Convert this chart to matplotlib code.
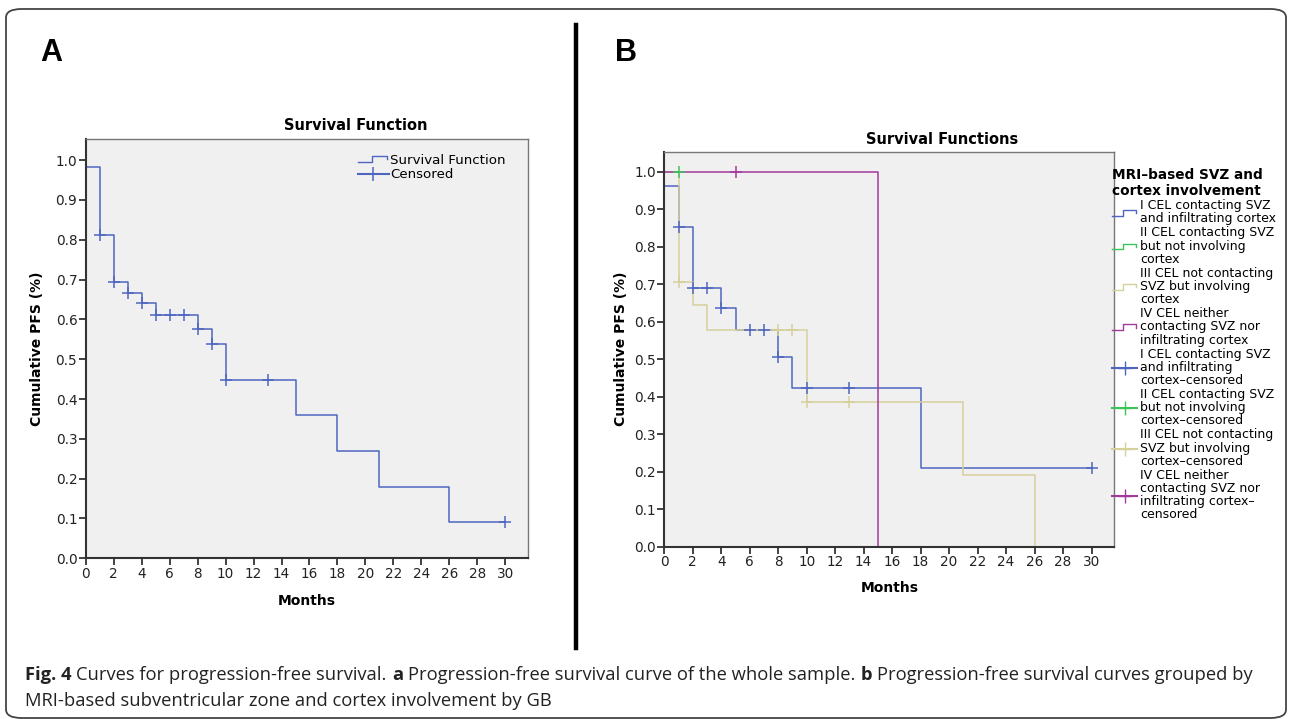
import matplotlib
matplotlib.use("Agg")
import matplotlib.pyplot as plt
from matplotlib.lines import Line2D
from matplotlib.legend_handler import HandlerBase
from matplotlib.patches import FancyBboxPatch


# panel A: whole sample
months_a = [0, 1, 2, 3, 4, 5, 8, 9, 10, 15, 18, 21, 26, 30]
pfs_a = [0.982, 0.813, 0.693, 0.666, 0.640, 0.611, 0.575, 0.538, 0.449,
         0.359, 0.269, 0.180, 0.090, 0.090]
cens_months_a = [1, 2, 3, 4, 5, 6, 7, 8, 9, 10, 13, 30]
cens_pfs_a = [0.813, 0.693, 0.666, 0.640, 0.611, 0.611, 0.611, 0.575,
              0.538, 0.449, 0.449, 0.090]

# panel B: groups I-IV
months_g1 = [0, 1, 2, 4, 5, 8, 9, 18, 30]
pfs_g1 = [0.962, 0.852, 0.689, 0.635, 0.577, 0.506, 0.422, 0.211, 0.211]
cens_months_g1 = [1, 2, 3, 4, 6, 7, 8, 10, 13, 30]
cens_pfs_g1 = [0.852, 0.689, 0.689, 0.635, 0.577, 0.577, 0.506, 0.422,
               0.422, 0.211]

months_g2 = [0, 1]
pfs_g2 = [1.0, 1.0]
cens_months_g2 = [1]
cens_pfs_g2 = [1.0]

months_g3 = [0, 1, 2, 3, 10, 21, 26]
pfs_g3 = [1.0, 0.705, 0.643, 0.577, 0.385, 0.192, 0.0]
cens_months_g3 = [1, 8, 9, 10, 13]
cens_pfs_g3 = [0.705, 0.577, 0.577, 0.385, 0.385]

months_g4 = [0, 15]
pfs_g4 = [1.0, 0.0]
cens_months_g4 = [5]
cens_pfs_g4 = [1.0]

group_labels = [
    "I CEL contacting SVZ\nand infiltrating cortex",
    "II CEL contacting SVZ\nbut not involving\ncortex",
    "III CEL not contacting\nSVZ but involving\ncortex",
    "IV CEL neither\ncontacting SVZ nor\ninfiltrating cortex",
]
cens_labels = [
    "I CEL contacting SVZ\nand infiltrating\ncortex\u2013censored",
    "II CEL contacting SVZ\nbut not involving\ncortex\u2013censored",
    "III CEL not contacting\nSVZ but involving\ncortex\u2013censored",
    "IV CEL neither\ncontacting SVZ nor\ninfiltrating cortex\u2013\ncensored",
]

x_ticks = list(range(0, 31, 2))
y_ticks = [0.0, 0.1, 0.2, 0.3, 0.4, 0.5, 0.6, 0.7, 0.8, 0.9, 1.0]

blue = "#4e66c0"
green = "#3cc45a"
khaki = "#d6d09a"
purple = "#a23a9c"


class StepHandler(HandlerBase):
    # little step symbol like SPSS uses for survival lines
    def create_artists(self, legend, orig_handle, xdescent, ydescent,
                       width, height, fontsize, trans):
        x0 = -xdescent
        y0 = -ydescent
        xs = [x0, x0 + 0.45 * width, x0 + 0.45 * width, x0 + 0.95 * width,
              x0 + 0.95 * width]
        ys = [y0 + 0.2 * height, y0 + 0.2 * height, y0 + 0.85 * height,
              y0 + 0.85 * height, y0 + 0.5 * height]
        ln = Line2D(xs, ys, color=orig_handle.get_color(), lw=1.0,
                    transform=trans)
        return [ln]


W, H = 1290, 719
fig = plt.figure(figsize=(W / 100, H / 100), dpi=100)


def fx(px):
    return px / W


def fy(py):
    return 1 - py / H


def style_axes(ax):
    ax.set_facecolor("#f0f0f0")
    ax.set_xlim(0, 31.6)
    ax.set_ylim(0, 1.053)
    ax.set_xticks(x_ticks)
    ax.set_yticks(y_ticks)
    ax.set_yticklabels(["%.1f" % v for v in y_ticks])
    ax.tick_params(direction="out", length=5, width=1.2, labelsize=9.8,
                   colors="#222222", pad=1)
    for side in ["left", "bottom"]:
        ax.spines[side].set_linewidth(1.5)
        ax.spines[side].set_color("#333333")
    for side in ["top", "right"]:
        ax.spines[side].set_linewidth(1.0)
        ax.spines[side].set_color("#777777")
    ax.set_xlabel("Months", fontsize=10, fontweight="bold")
    ax.set_ylabel("Cumulative PFS (%)", fontsize=10, fontweight="bold")


# ---- panel A ----
axA = fig.add_axes([fx(85.7), fy(558.3), fx(527.7 - 85.7), (558.3 - 139) / H])
style_axes(axA)
axA.step(months_a, pfs_a, where="post", color=blue, lw=1.1)
axA.plot(cens_months_a, cens_pfs_a, ls="none", marker="+", ms=8,
         mew=1.1, color=blue)
axA.xaxis.set_label_coords(0.5, -0.086)
axA.yaxis.set_label_coords(-0.095, 0.5)

hA1 = Line2D([], [], color=blue)
hA2 = Line2D([], [], color=blue, marker="+", ms=10, mew=1.1)
fig.legend([hA1, hA2], ["Survival Function", "Censored"],
           loc="upper left", bbox_to_anchor=(fx(358), fy(154)),
           frameon=False, fontsize=9.6, borderpad=0, borderaxespad=0,
           labelspacing=0.1, handlelength=2.3, handletextpad=0.1,
           numpoints=1, handler_map={hA1: StepHandler()})
fig.text(fx(356), fy(126), "Survival Function", ha="center", va="center",
         fontsize=10.5, fontweight="bold")

# ---- panel B ----
axB = fig.add_axes([fx(664.3), fy(546.7), fx(1114.3 - 664.3), (546.7 - 151.7) / H])
style_axes(axB)
groups = [
    (months_g1, pfs_g1, cens_months_g1, cens_pfs_g1, blue),
    (months_g2, pfs_g2, cens_months_g2, cens_pfs_g2, green),
    (months_g3, pfs_g3, cens_months_g3, cens_pfs_g3, khaki),
    (months_g4, pfs_g4, cens_months_g4, cens_pfs_g4, purple),
]
for m, s, cm, cs, c in groups:
    axB.step(m, s, where="post", color=c, lw=1.1)
for m, s, cm, cs, c in groups:
    axB.plot(cm, cs, ls="none", marker="+", ms=8, mew=1.1, color=c)
axB.xaxis.set_label_coords(0.5, -0.088)
axB.yaxis.set_label_coords(-0.08, 0.5)

colors_b = [blue, green, khaki, purple]
step_handles = [Line2D([], [], color=c) for c in colors_b]
cens_handles = [Line2D([], [], color=c, marker="+", ms=10, mew=1.0)
                for c in colors_b]
legB = fig.legend(step_handles + cens_handles, group_labels + cens_labels,
                  loc="upper left", bbox_to_anchor=(fx(1112), fy(168)),
                  frameon=False, fontsize=9.0, borderpad=0, borderaxespad=0,
                  labelspacing=0.08, handlelength=2.0, handletextpad=0.25,
                  numpoints=1, alignment="left",
                  title="MRI\u2013based SVZ and\ncortex involvement",
                  title_fontproperties={"weight": "bold", "size": 9.8},
                  handler_map={h: StepHandler() for h in step_handles})
for t in legB.get_texts():
    t.set_linespacing(1.02)
fig.text(fx(942), fy(140), "Survival Functions", ha="center", va="center",
         fontsize=10.5, fontweight="bold")

# ---- frame, panel letters, divider ----
fig.patches.append(FancyBboxPatch((fx(6), fy(718)), fx(1280), (718 - 9) / H,
                                  boxstyle="round,pad=0,rounding_size=0.012",
                                  transform=fig.transFigure, fill=False,
                                  edgecolor="#444444", lw=1.3))
fig.add_artist(Line2D([fx(576), fx(576)], [fy(25), fy(648)],
                      color="black", lw=3.2, transform=fig.transFigure))
fig.text(fx(40), fy(53), "A", fontsize=22, fontweight="bold",
         family="Liberation Sans", va="center")
fig.text(fx(615), fy(53), "B", fontsize=22, fontweight="bold",
         family="Liberation Sans", va="center")

# ---- caption with bold pieces ----
renderer = fig.canvas.get_renderer()
cap_line1 = [("Fig. 4", "bold"), ("Curves for progression-free survival.", "normal"),
             ("a", "bold"), ("Progression-free survival curve of the whole sample.", "normal"),
             ("b", "bold"), ("Progression-free survival curves grouped by", "normal")]
cap_line2 = [("MRI-based subventricular zone and cortex involvement by GB", "normal")]
cap_size = 13.2
space_px = 0.27 * cap_size * 100 / 72
for line, ypx in [(cap_line1, 675), (cap_line2, 701)]:
    xpx = 25
    for txt, wt in line:
        t = fig.text(fx(xpx), fy(ypx), txt, fontsize=cap_size, fontweight=wt,
                     family="Open Sans", va="center", color="#222222")
        xpx += t.get_window_extent(renderer).width + space_px

fig.savefig("out.png", dpi=100)
